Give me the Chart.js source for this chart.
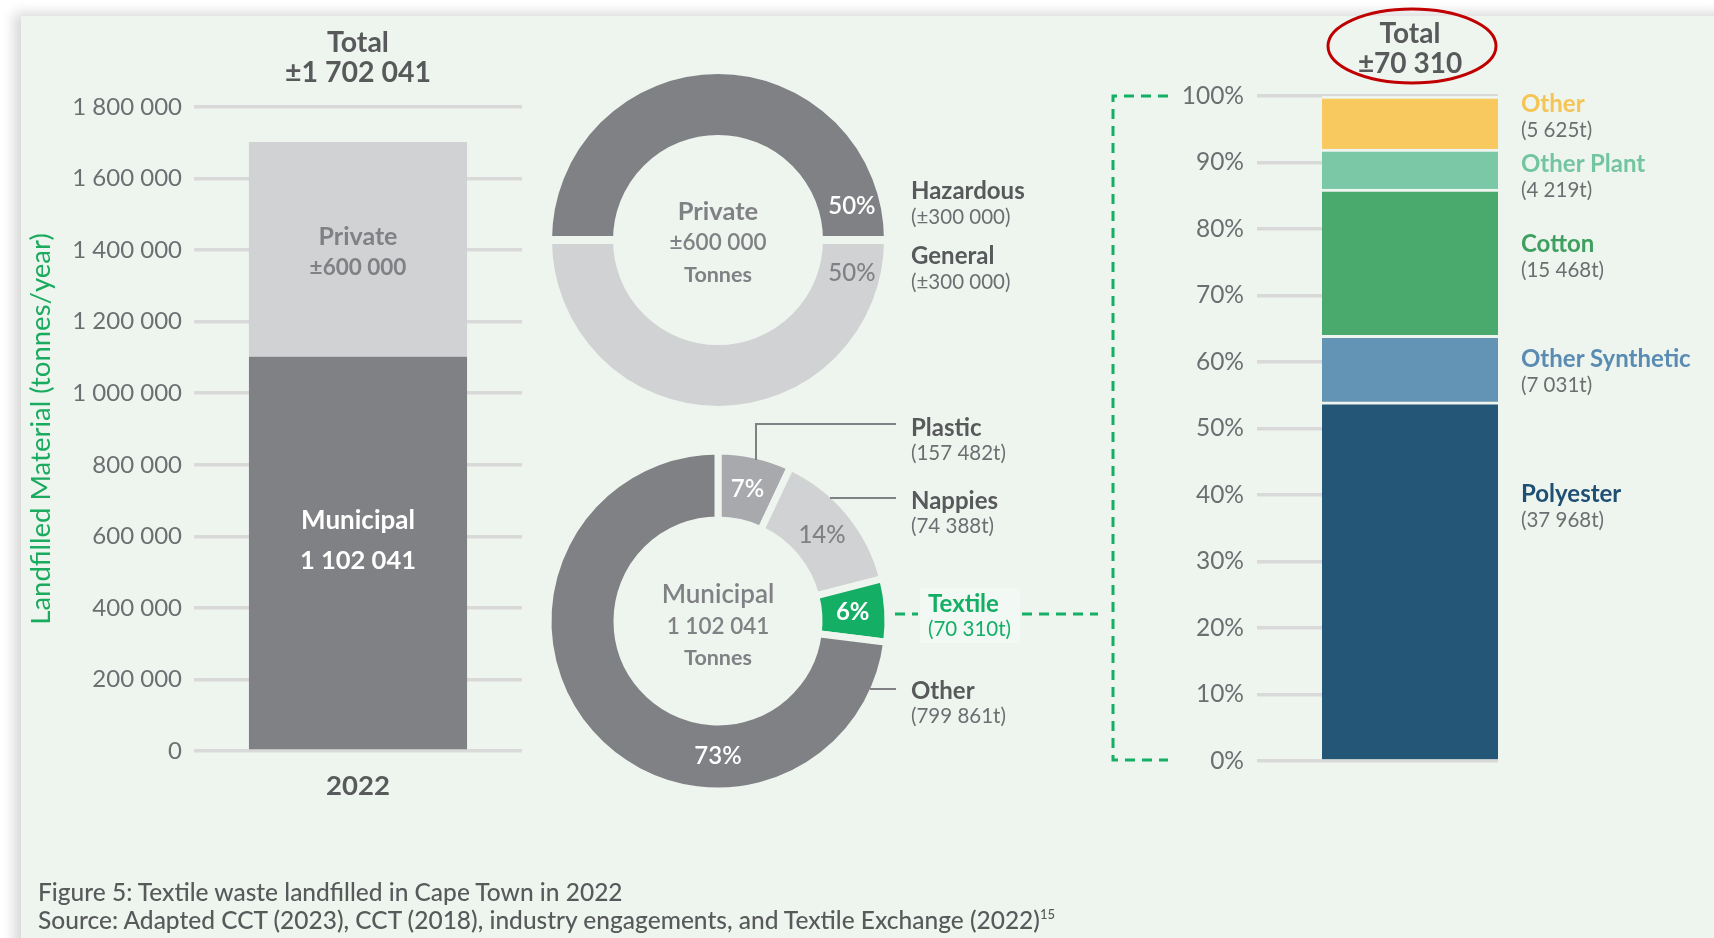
<!DOCTYPE html>
<html>
<head>
<meta charset="utf-8">
<script src="https://cdn.jsdelivr.net/npm/chart.js@4.4.1/dist/chart.umd.min.js"></script>
<style>
  html, body { margin: 0; padding: 0; width: 1714px; height: 938px; overflow: hidden; background: #fff; font-family: Lato, 'Open Sans', sans-serif; }
  #panel { position: absolute; left: 21px; top: 16px; width: 1710px; height: 940px; background: #eef5ef; box-shadow: -7px -3px 12px rgba(0,0,0,0.16); }
  canvas { position: absolute; }
  .lbl { position: absolute; line-height: 1; white-space: nowrap; transform: translateY(-50%); }
  .name { font-size: 24px; font-weight: 700; color: #58595b; }
  .sub { font-size: 20.5px; color: #6d6e71; }
  .ctr { transform: translate(-50%, -50%); }
  #overlay { position: absolute; left: 0; top: 0; }
  #caption { position: absolute; left: 38px; top: 878px; font-size: 24.5px; color: #58595b; line-height: 28px; font-weight: 500; }
  #caption sup { font-size: 13px; vertical-align: 10px; line-height: 0; }
</style>
</head>
<body>
<div id="panel"></div>
<canvas id="leftBar" width="540" height="830" style="left:0;top:0"></canvas>
<canvas id="privateRing" width="360" height="360" style="left:538px;top:60px"></canvas>
<canvas id="municipalRing" width="360" height="360" style="left:538px;top:441px"></canvas>
<canvas id="textileBar" width="420" height="800" style="left:1100px;top:0"></canvas>

<svg id="overlay" width="1714" height="938">
  <!-- leader lines for the municipal ring -->
  <polyline points="756,460 756,424 896,424" fill="none" stroke="#808184" stroke-width="2"/>
  <line x1="830" y1="498" x2="896" y2="498" stroke="#808184" stroke-width="2"/>
  <line x1="870" y1="689" x2="896" y2="689" stroke="#808184" stroke-width="2"/>
  <rect x="920" y="588" width="100" height="55" fill="#f2f8f3"/>
  <!-- textile link to the breakdown -->
  <g stroke="#14ae65" stroke-width="3" stroke-dasharray="10 7" fill="none">
    <line x1="895" y1="614" x2="918" y2="614"/>
    <line x1="1022" y1="614" x2="1098" y2="614"/>
    <polyline points="1168,96 1113,96 1113,760 1168,760"/>
  </g>
  <ellipse cx="1412" cy="46" rx="84" ry="37" fill="none" stroke="#c00000" stroke-width="3"/>
</svg>
<div id="labels"></div>
<div id="caption">Figure 5: Textile waste landfilled in Cape Town in 2022<br>Source: Adapted CCT (2023), CCT (2018), industry engagements, and Textile Exchange (2022)<sup>15</sup></div>

<script>
const PANEL_BG = '#eef5ef';
Chart.defaults.font.family = "Lato, 'Open Sans', sans-serif";

// Left bar: landfilled material per source (tonnes/year)
const years = ['2022'];
const municipalTonnes = [1102041];
const privateTonnes = [600000];
const leftTickValues = [0, 200000, 400000, 600000, 800000, 1000000, 1200000, 1400000, 1600000, 1800000];

// Private ring
const privateLabels = ['Hazardous', 'General'];
const privateValues = [300000, 300000];

// Municipal ring (shares as drawn) and reported tonnes
const municipalLabels = ['Plastic', 'Nappies', 'Textile', 'Other'];
const municipalShare = [7, 14, 6, 73];
const municipalBreakdown = ['157 482t', '74 388t', '70 310t', '799 861t'];

// Textile breakdown (tonnes)
const textileLabels = ['Polyester', 'Other Synthetic', 'Cotton', 'Other Plant', 'Other'];
const textileTonnes = [37968, 7031, 15468, 4219, 5625];
const textileTotal = 70310;
const pctTickValues = [0, 10, 20, 30, 40, 50, 60, 70, 80, 90, 100];

const fmt = n => String(n).replace(/\B(?=(\d{3})+(?!\d))/g, ' ');

// ---------- Left stacked bar ----------
const leftBarText = {
    id: 'leftBarText',
    afterDatasetsDraw(chart) {
        const ctx = chart.ctx;
        const mun = chart.getDatasetMeta(0).data[0];
        const pri = chart.getDatasetMeta(1).data[0];
        ctx.save();
        ctx.textAlign = 'center';
        ctx.textBaseline = 'middle';
        ctx.fillStyle = '#ffffff';
        ctx.font = "700 26px Lato";
        ctx.fillText('Municipal', mun.x, mun.y + 164);
        ctx.font = "700 25.5px Lato";
        ctx.fillText(fmt(municipalTonnes[0]), mun.x, mun.y + 204);
        ctx.fillStyle = '#808184';
        ctx.font = "700 25px Lato";
        ctx.fillText('Private', pri.x, pri.y + 95);
        ctx.font = "700 22.5px Lato";
        ctx.fillText('±' + fmt(privateTonnes[0]), pri.x, pri.y + 126);
        ctx.fillStyle = '#58595b';
        ctx.font = "700 28.5px Lato";
        ctx.fillText('Total', pri.x, pri.y - 99);
        ctx.fillText('±' + fmt(municipalTonnes[0] + privateTonnes[0]), pri.x, pri.y - 69);
        ctx.restore();
    }
};

new Chart(document.getElementById('leftBar'), {
    type: 'bar',
    data: {
        labels: years,
        datasets: [
            { label: 'Municipal', data: municipalTonnes, backgroundColor: '#808184', borderWidth: 0 },
            { label: 'Private', data: privateTonnes, backgroundColor: '#d1d2d4', borderWidth: 0 }
        ]
    },
    options: {
        responsive: false,
        animation: false,
        events: [],
        layout: { padding: { top: 107, right: 18, bottom: 19, left: 0 } },
        barPercentage: 0.665,
        categoryPercentage: 1,
        plugins: { legend: { display: false }, tooltip: { enabled: false } },
        scales: {
            x: {
                stacked: true,
                grid: { display: false, drawTicks: false },
                border: { display: false },
                ticks: { color: '#58595b', font: { size: 27.5, weight: 'bold' }, padding: 19 },
                afterFit: s => { s.height = 60; }
            },
            y: {
                stacked: true,
                min: 0,
                max: 1800000,
                afterBuildTicks: s => { s.ticks = leftTickValues.map(v => ({ value: v })); },
                grid: { color: '#d9d9d9', lineWidth: 3.5, drawTicks: false },
                border: { display: false },
                ticks: { color: '#6d6e71', font: { size: 24 }, padding: 12, callback: v => fmt(v) },
                title: {
                    display: true,
                    text: 'Landfilled Material (tonnes/year)',
                    color: '#1aab5f',
                    font: { size: 27.5 },
                    padding: { top: 25, bottom: 0 }
                },
                afterFit: s => { s.width = 194; }
            }
        }
    },
    plugins: [leftBarText]
});

// ---------- Rings ----------
const ringText = {
    id: 'ringText',
    afterDatasetsDraw(chart, args, opts) {
        const ctx = chart.ctx;
        const arcs = chart.getDatasetMeta(0).data;
        ctx.save();
        ctx.textAlign = 'center';
        ctx.textBaseline = 'middle';
        arcs.forEach((arc, i) => {
            const p = arc.getProps(['x', 'y', 'startAngle', 'endAngle'], true);
            const a = opts.angles[i] != null ? (opts.angles[i] - 90) * Math.PI / 180 : (p.startAngle + p.endAngle) / 2;
            ctx.fillStyle = opts.colors[i];
            ctx.font = opts.fonts[i];
            ctx.fillText(opts.texts[i], p.x + opts.radius * Math.cos(a), p.y + opts.radius * Math.sin(a));
        });
        const c = arcs[0];
        ctx.fillStyle = '#808184';
        opts.center.forEach(l => {
            ctx.font = l.font;
            ctx.fillText(l.text, c.x, c.y + l.dy);
        });
        ctx.restore();
    }
};

function ringOptions(rotation, gap, textOpts) {
    return {
        responsive: false,
        animation: false,
        events: [],
        rotation: rotation,
        radius: 170,
        cutout: (101 / 170 * 100) + '%',
        borderWidth: gap,
        borderColor: PANEL_BG,
        borderJoinStyle: 'miter',
        plugins: { legend: { display: false }, tooltip: { enabled: false }, ringText: textOpts }
    };
}

const privateSum = privateValues.reduce((a, b) => a + b, 0);
new Chart(document.getElementById('privateRing'), {
    type: 'doughnut',
    data: {
        labels: privateLabels,
        datasets: [{ data: privateValues, backgroundColor: ['#808184', '#d1d2d4'] }]
    },
    options: ringOptions(-90, 8, {
        texts: privateValues.map(v => Math.round(v / privateSum * 100) + '%'),
        colors: ['#ffffff', '#808184'],
        fonts: ["600 24px Lato", "500 24px Lato"],
        angles: [76, 104],
        radius: 138,
        center: [
            { text: 'Private', font: "700 25.5px Lato", dy: -28 },
            { text: '±' + fmt(privateSum), font: "600 22.5px Lato", dy: 3 },
            { text: 'Tonnes', font: "700 21.5px Lato", dy: 35 }
        ]
    }),
    plugins: [ringText]
});

new Chart(document.getElementById('municipalRing'), {
    type: 'doughnut',
    data: {
        labels: municipalLabels,
        datasets: [{ data: municipalShare, backgroundColor: ['#a7a9ac', '#d1d2d4', '#14ae65', '#808184'] }]
    },
    options: ringOptions(0, 7, {
        texts: municipalShare.map(v => v + '%'),
        colors: ['#ffffff', '#808184', '#ffffff', '#ffffff'],
        fonts: ["600 24px Lato", "500 24px Lato", "700 24px Lato", "600 24px Lato"],
        angles: [null, null, null, 180],
        radius: 135,
        center: [
            { text: 'Municipal', font: "600 26px Lato", dy: -26 },
            { text: fmt(municipalTonnes[0]), font: "600 22.5px Lato", dy: 6 },
            { text: 'Tonnes', font: "700 21.5px Lato", dy: 37 }
        ]
    }),
    plugins: [ringText]
});

// ---------- Textile breakdown (100% stacked) ----------
const textileColors = ['#235677', '#6393b5', '#4aa96c', '#7bc8a6', '#f8c95f'];
const textileTextColors = ['#1f5073', '#5a8bb3', '#3f9f5f', '#73c59f', '#f5c453'];

new Chart(document.getElementById('textileBar'), {
    type: 'bar',
    data: {
        labels: ['Textile'],
        datasets: textileLabels.map((name, i) => ({
            label: name,
            data: [textileTonnes[i] / textileTotal * 100],
            backgroundColor: textileColors[i],
            borderColor: PANEL_BG,
            borderWidth: { top: 3, left: 0, right: 0, bottom: 0 },
            borderSkipped: false
        }))
    },
    options: {
        responsive: false,
        animation: false,
        events: [],
        layout: { padding: { top: 96, right: 22, bottom: 39, left: 0 } },
        barPercentage: 1,
        categoryPercentage: 1,
        plugins: { legend: { display: false }, tooltip: { enabled: false } },
        scales: {
            x: { stacked: true, display: false },
            y: {
                stacked: true,
                min: 0,
                max: 100,
                afterBuildTicks: s => { s.ticks = pctTickValues.map(v => ({ value: v })); },
                grid: { color: '#d9d9d9', lineWidth: 3.5, tickLength: 65 },
                border: { display: false },
                ticks: { color: '#6d6e71', font: { size: 24.5 }, padding: 13, callback: v => v + '%' },
                afterFit: s => { s.width = 222; }
            }
        }
    }
});

// ---------- Callout text ----------
const labelsEl = document.getElementById('labels');
function addText(html, x, y, cls, style) {
    const d = document.createElement('div');
    d.className = 'lbl ' + (cls || '');
    d.style.left = x + 'px';
    d.style.top = y + 'px';
    if (style) d.style.cssText += style;
    d.innerHTML = html;
    labelsEl.appendChild(d);
}

// private ring callouts
const privateLabelY = [190, 255];
privateLabels.forEach((name, i) => {
    addText(name, 911, privateLabelY[i], 'name');
    addText('(±' + fmt(privateValues[i]) + ')', 911, privateLabelY[i] + 26, 'sub');
});

// municipal ring callouts
const municipalLabelY = [427, 500, 603, 690];
municipalLabels.forEach((name, i) => {
    const x = name === 'Textile' ? 928 : 911;
    const green = name === 'Textile' ? 'color:#14ae65' : '';
    addText(name, x, municipalLabelY[i], 'name', green);
    addText('(' + municipalBreakdown[i] + ')', x, municipalLabelY[i] + 25, 'sub', green);
});

// textile breakdown labels
const textileLabelY = [493, 358, 243, 163, 103];
textileLabels.forEach((name, i) => {
    addText(name, 1521, textileLabelY[i], 'name', 'color:' + textileTextColors[i]);
    addText('(' + fmt(textileTonnes[i]) + 't)', 1521, textileLabelY[i] + 26, 'sub');
});

addText('Total', 1410, 32, 'name ctr', 'font-size:28px');
addText('±' + fmt(textileTotal), 1410, 62, 'name ctr', 'font-size:28px');
</script>
</body>
</html>
